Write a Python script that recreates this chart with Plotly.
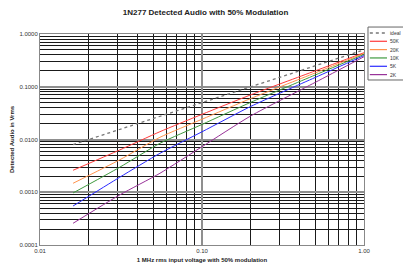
import plotly.graph_objects as go

x_vals = [0.016, 0.031, 0.055, 0.1, 0.2, 0.5, 1.0]
ideal_x = [0.016, 1.0]
ideal_y = [0.008, 0.5]
y_50k = [0.00261, 0.00632, 0.01406, 0.0300, 0.0703, 0.200, 0.442]
y_20k = [0.00148, 0.00411, 0.01101, 0.0242, 0.0599, 0.183, 0.427]
y_10k = [0.00097, 0.00297, 0.00847, 0.0193, 0.0507, 0.167, 0.410]
y_5k = [0.000549, 0.00192, 0.00547, 0.0140, 0.0424, 0.150, 0.390]
y_2k = [0.000258, 0.000887, 0.00229, 0.0073, 0.0280, 0.121, 0.371]

series_names = ["50K", "20K", "10K", "5K", "2K"]
series_values = [y_50k, y_20k, y_10k, y_5k, y_2k]
series_colors = ["#ff3b3b", "#ff944d", "#3f9a3f", "#2b2bff", "#993399"]
ideal_color = "#777777"

font = "Liberation Sans, Arial, sans-serif"

fig = go.Figure()
fig.add_trace(go.Scatter(x=ideal_x, y=ideal_y, mode="lines", name="ideal",
                         line=dict(color=ideal_color, width=1.3, dash="dot")))
for name, ys, col in zip(series_names, series_values, series_colors):
    fig.add_trace(go.Scatter(x=x_vals, y=ys, mode="lines", name=name,
                             line=dict(color=col, width=1, shape="spline", smoothing=0.6)))

# minor grid positions 2..9 within each decade
x_minor = [m * 10.0 ** e for e in (-2, -1) for m in range(2, 10)]
y_minor = [m * 10.0 ** e for e in (-4, -3, -2, -1) for m in range(2, 10)]

axis_common = dict(
    type="log", automargin=False,
    showline=True, linecolor="#888888", linewidth=1, mirror=True,
    showgrid=True, gridcolor="#8f8f8f", gridwidth=2,
    ticks="", zeroline=False,
    tickfont=dict(family=font, size=6, color="#333333"),
)

fig.update_xaxes(range=[-2, 0], dtick=1, tickformat=".2f",
                 minor=dict(showgrid=True, gridcolor="#1a1a1a", gridwidth=1,
                            tickvals=x_minor, ticks=""),
                 title=dict(text="<b>1 MHz rms input voltage with 50% modulation</b>",
                            font=dict(family=font, size=6, color="#222222"), standoff=4),
                 **axis_common)
fig.update_yaxes(range=[-4, 0], dtick=1, tickformat=".4f",
                 minor=dict(showgrid=True, gridcolor="#1a1a1a", gridwidth=1,
                            tickvals=y_minor, ticks=""),
                 title=dict(text="<b>Detected Audio in Vrms</b>",
                            font=dict(family=font, size=6, color="#222222"), standoff=4),
                 **axis_common)

# compact legend drawn by hand (plotly's legend rows are too tall at this size)
legend_names = ["ideal"] + series_names
legend_colors = [ideal_color] + series_colors
legend_dash = ["dot"] + ["solid"] * len(series_names)
shapes = [dict(type="rect", xref="paper", yref="paper", x0=1.0123, x1=1.14,
               y0=0.782, y1=1.033, line=dict(color="#666666", width=1),
               fillcolor="white", layer="above")]
annotations = []
top = 1.005
step = 0.0395
for i, (nm, col, ds) in enumerate(zip(legend_names, legend_colors, legend_dash)):
    yy = top - i * step
    shapes.append(dict(type="line", xref="paper", yref="paper", x0=1.018, x1=1.071,
                       y0=yy, y1=yy, layer="above",
                       line=dict(color=col, width=1.5 if ds == "dot" else 1.2, dash=ds)))
    annotations.append(dict(text=nm, xref="paper", yref="paper", x=1.075, y=yy,
                            xanchor="left", yanchor="middle", showarrow=False,
                            font=dict(family=font, size=5, color="#333333")))

fig.update_layout(
    width=403, height=267,
    margin=dict(l=40, r=39, t=34, b=22, autoexpand=False),
    paper_bgcolor="white", plot_bgcolor="white",
    title=dict(text="<b>1N277 Detected Audio with 50% Modulation</b>",
               font=dict(family=font, size=8, color="#222222"),
               x=0.51, xanchor="center", y=0.955, yanchor="middle"),
    showlegend=False,
    shapes=shapes,
    annotations=annotations,
)

fig.write_html("out.html", config={"displayModeBar": False},
               post_script="document.body.style.margin='0px';")
